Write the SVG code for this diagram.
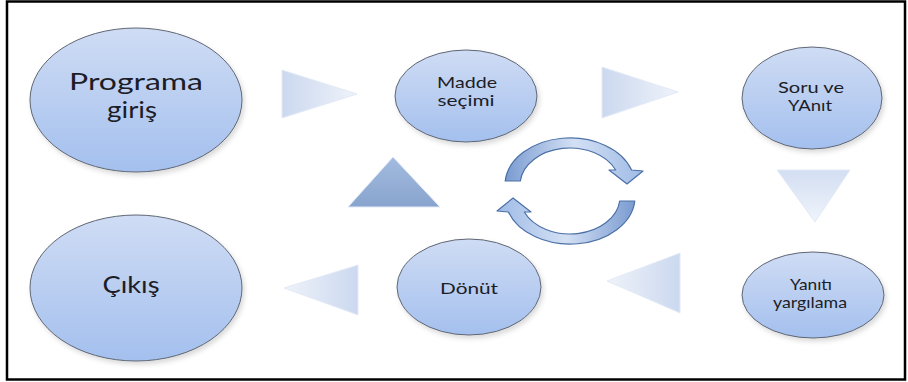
<svg xmlns="http://www.w3.org/2000/svg" width="908" height="382" viewBox="0 0 908 382">
  <defs>
    <linearGradient id="nodeFill" x1="0" y1="0" x2="0" y2="1">
      <stop offset="0" stop-color="#cfdcf4"/>
      <stop offset="1" stop-color="#a4c0ee"/>
    </linearGradient>
    <linearGradient id="triRight" x1="0" y1="0" x2="1" y2="0">
      <stop offset="0" stop-color="#cbd8ef"/>
      <stop offset="1" stop-color="#eff3fa"/>
    </linearGradient>
    <linearGradient id="triLeft" x1="1" y1="0" x2="0" y2="0">
      <stop offset="0" stop-color="#cbd8ef"/>
      <stop offset="1" stop-color="#eff3fa"/>
    </linearGradient>
    <linearGradient id="triDown" x1="0" y1="0" x2="0" y2="1">
      <stop offset="0" stop-color="#d2def2"/>
      <stop offset="1" stop-color="#f0f4fb"/>
    </linearGradient>
    <linearGradient id="triUp" x1="0" y1="0" x2="0" y2="1">
      <stop offset="0" stop-color="#a3bbdf"/>
      <stop offset="1" stop-color="#88a4ce"/>
    </linearGradient>
    <linearGradient id="cycleFill" x1="0" y1="0" x2="1" y2="0">
      <stop offset="0" stop-color="#7a9bd0"/>
      <stop offset="0.5" stop-color="#d3e0f4"/>
      <stop offset="1" stop-color="#9fbbe6"/>
    </linearGradient>
    <filter id="softShadow" x="-10%" y="-10%" width="125%" height="130%">
      <feDropShadow dx="2" dy="3" stdDeviation="2.5" flood-color="#000" flood-opacity="0.15"/>
    </filter>
    <!-- one half of the circular cycle arrow; the other half is this rotated 180 degrees -->
    <path id="cycleHalf" d="M 505.2,181 A 65 47 0 0 1 631.6,170 L 643,171 L 627,184 L 609,170 L 615.7,170 A 50 37 0 0 0 520.3,181 Z"/>
  </defs>
  <style>
    .node ellipse { fill: url(#nodeFill); stroke: #5f6673; stroke-width: 1; filter: url(#softShadow); }
    .big { font-family: Lato, "Open Sans", sans-serif; font-size: 23px; fill: #1c1d26; text-anchor: middle; }
    .small { font-family: Lato, "Open Sans", sans-serif; font-size: 15px; fill: #1c1d26; text-anchor: middle; }
    .tri { stroke: #e3eaf6; stroke-width: 1; }
    .cycle { fill: url(#cycleFill); stroke: #4c70a6; stroke-width: 1.2; stroke-linejoin: round; }
  </style>

  <rect x="0" y="0" width="908" height="382" fill="#ffffff"/>
  <rect x="7" y="1.5" width="898" height="378" fill="none" stroke="#000" stroke-width="2.5"/>

  <g id="connectors">
    <polygon class="tri" points="282,70 357,94 282,118" fill="url(#triRight)"/>
    <polygon class="tri" points="602,67 678,92 602,118" fill="url(#triRight)"/>
    <polygon class="tri" points="777,170 850,170 815,222" fill="url(#triDown)"/>
    <polygon class="tri" points="680,253 607,281 680,313" fill="url(#triLeft)"/>
    <polygon class="tri" points="358,265 284,288 358,315" fill="url(#triLeft)"/>
    <polygon class="tri" points="348,207 393,157 440,207" fill="url(#triUp)"/>
    <g id="cycle">
      <use href="#cycleHalf" class="cycle"/>
      <use href="#cycleHalf" class="cycle" transform="rotate(180 570 191)"/>
    </g>
  </g>

  <g id="node-programa" class="node">
    <ellipse cx="136" cy="100" rx="106" ry="72"/>
    <text class="big" x="136" y="90" textLength="134" lengthAdjust="spacingAndGlyphs">Programa</text>
    <text class="big" x="132" y="118" textLength="50" lengthAdjust="spacingAndGlyphs">giriş</text>
  </g>
  <g id="node-madde" class="node">
    <ellipse cx="466" cy="96" rx="71" ry="46"/>
    <text class="small" x="467" y="88" textLength="60" lengthAdjust="spacingAndGlyphs">Madde</text>
    <text class="small" x="466" y="106" textLength="57" lengthAdjust="spacingAndGlyphs">seçimi</text>
  </g>
  <g id="node-soru" class="node">
    <ellipse cx="812" cy="98" rx="70" ry="51"/>
    <text class="small" x="811" y="93" textLength="66" lengthAdjust="spacingAndGlyphs">Soru ve</text>
    <text class="small" x="810" y="111" textLength="44" lengthAdjust="spacingAndGlyphs">YAnıt</text>
  </g>
  <g id="node-yanit" class="node">
    <ellipse cx="813" cy="295" rx="71" ry="43"/>
    <text class="small" x="811" y="290" textLength="42" lengthAdjust="spacingAndGlyphs">Yanıtı</text>
    <text class="small" x="810" y="308" textLength="74" lengthAdjust="spacingAndGlyphs">yargılama</text>
  </g>
  <g id="node-donut" class="node">
    <ellipse cx="469" cy="287" rx="72" ry="48"/>
    <text class="small" x="469" y="294" textLength="58" lengthAdjust="spacingAndGlyphs">Dönüt</text>
  </g>
  <g id="node-cikis" class="node">
    <ellipse cx="136" cy="288" rx="106" ry="73"/>
    <text class="big" x="131" y="293" textLength="57" lengthAdjust="spacingAndGlyphs">Çıkış</text>
  </g>
</svg>
